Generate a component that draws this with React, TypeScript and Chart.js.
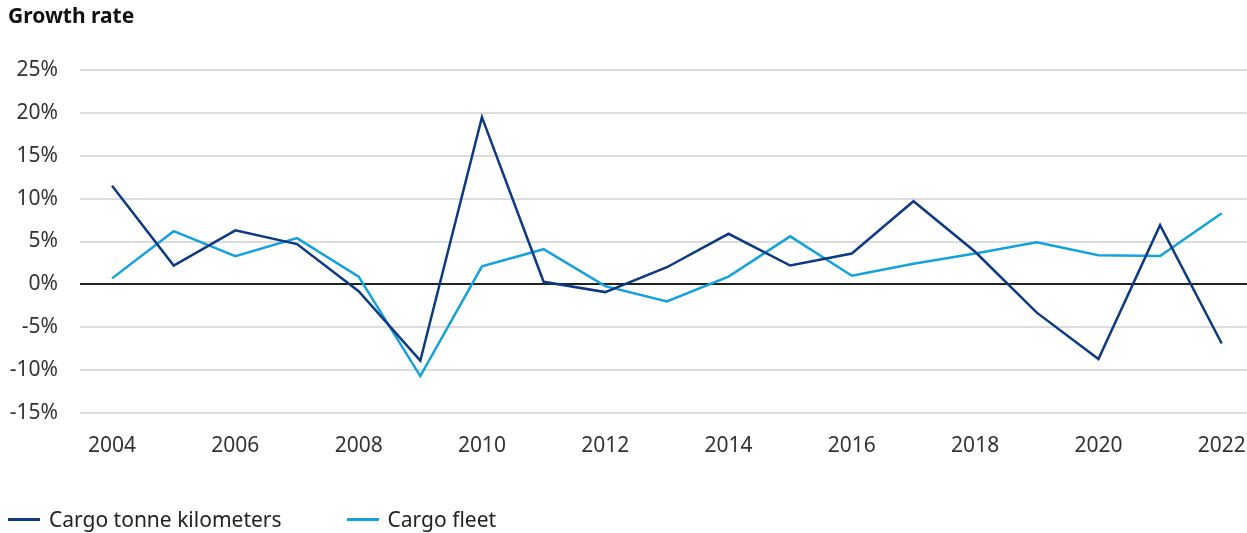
import React, { useEffect, useRef } from "react";
import { Chart, registerables } from "chart.js";

Chart.register(...registerables);

const years = [2004, 2005, 2006, 2007, 2008, 2009, 2010, 2011, 2012, 2013, 2014, 2015, 2016, 2017, 2018, 2019, 2020, 2021, 2022];
const cargoTonneKm = [11.5, 2.2, 6.3, 4.7, -0.8, -8.9, 19.5, 0.3, -0.9, 2.0, 5.9, 2.2, 3.6, 9.7, 3.8, -3.3, -8.7, 6.9, -6.9];
const cargoFleet = [0.7, 6.2, 3.3, 5.4, 0.9, -10.7, 2.1, 4.1, -0.2, -2.0, 0.9, 5.6, 1.0, 2.4, 3.6, 4.9, 3.4, 3.3, 8.3];
const xTicks = [2004, 2006, 2008, 2010, 2012, 2014, 2016, 2018, 2020, 2022];
const yTicks = [-15, -10, -5, 0, 5, 10, 15, 20, 25];

const DARK = "#0d3a80";
const LIGHT = "#14a2dc";
const FONT = "'Noto Sans', 'Open Sans', sans-serif";

export default function App() {
  const ref = useRef<HTMLCanvasElement | null>(null);

  useEffect(() => {
    if (!ref.current) return;
    const chart = new Chart(ref.current, {
      type: "line",
      data: {
        datasets: [
          {
            label: "Cargo tonne kilometers",
            data: years.map((y, i) => ({ x: y, y: cargoTonneKm[i] })),
            borderColor: DARK,
            backgroundColor: DARK,
            borderWidth: 2.5,
            pointRadius: 0,
            tension: 0,
          },
          {
            label: "Cargo fleet",
            data: years.map((y, i) => ({ x: y, y: cargoFleet[i] })),
            borderColor: LIGHT,
            backgroundColor: LIGHT,
            borderWidth: 2.5,
            pointRadius: 0,
            tension: 0,
          },
        ],
      },
      options: {
        animation: false,
        responsive: false,
        layout: { padding: { top: 70, left: 0, right: 0, bottom: 0 } },
        plugins: {
          legend: { display: false },
          title: { display: false },
          tooltip: { enabled: false },
        },
        scales: {
          x: {
            type: "linear",
            min: 2003.48,
            max: 2022.41,
            afterFit: (s: any) => {
              s.height = 120;
              s.paddingLeft = 0;
              s.paddingRight = 0;
            },
            afterBuildTicks: (s: any) => {
              s.ticks = xTicks.map((v) => ({ value: v }));
            },
            grid: { display: false },
            border: { display: false },
            ticks: {
              autoSkip: false,
              maxRotation: 0,
              padding: 12,
              color: "#333",
              font: { family: FONT, size: 21 },
              callback: (v: any) => String(v),
            },
          },
          y: {
            type: "linear",
            min: -15,
            max: 25,
            afterFit: (s: any) => {
              s.width = 80;
              s.paddingTop = 0;
              s.paddingBottom = 0;
            },
            afterBuildTicks: (s: any) => {
              s.ticks = yTicks.map((v) => ({ value: v }));
            },
            border: { display: false },
            grid: {
              color: (ctx: any) => (ctx.tick && ctx.tick.value === 0 ? "#222" : "#dcdcdc"),
              lineWidth: 2,
              drawTicks: false,
            },
            ticks: {
              padding: 22,
              color: "#333",
              font: { family: FONT, size: 21 },
              callback: (v: any) => `${v}%`,
            },
          },
        },
      },
    });
    return () => chart.destroy();
  }, []);

  return (
    <div style={{ position: "fixed", left: 0, top: 0, width: 1247, height: 533, background: "#fff", fontFamily: FONT }}>
      <canvas ref={ref} width={1247} height={533} style={{ position: "absolute", left: 0, top: 0 }} />
      <div style={{ position: "absolute", left: 8, top: 1, fontSize: 21, fontWeight: 700, color: "#111" }}>Growth rate</div>
      <div style={{ position: "absolute", left: 8, top: 505, display: "flex", alignItems: "center", fontSize: 21, color: "#222" }}>
        <span style={{ display: "inline-block", width: 32, height: 3, background: DARK, marginRight: 9 }} />
        <span>Cargo tonne kilometers</span>
        <span style={{ display: "inline-block", width: 32, height: 3, background: LIGHT, marginLeft: 65, marginRight: 9 }} />
        <span>Cargo fleet</span>
      </div>
    </div>
  );
}
